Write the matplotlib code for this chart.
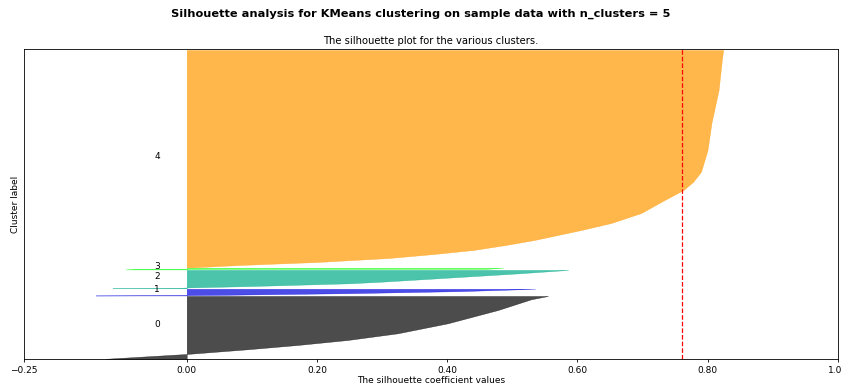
"""
Silhouette plot for KMeans with 5 clusters, values read off the reference.
"""
import numpy as np
import matplotlib
matplotlib.use("Agg")
import matplotlib.pyplot as plt
import matplotlib.cm as cm

n_clusters = 5
cluster_sizes = [1230, 130, 360, 30, 4255]
silhouette_avg = 0.761

# sorted silhouette values, read at a few sample ranks per cluster
c0_rank = [0, 94, 186, 270, 368, 499, 695, 955, 1165, 1230]
c0_vals = [-0.125, 0.0, 0.093, 0.170, 0.247, 0.324, 0.401, 0.478, 0.529, 0.555]

c1_rank = [0, 6, 12, 45, 85, 130]
c1_vals = [-0.14, -0.01, 0.05, 0.25, 0.42, 0.535]

c2_rank = [0, 8, 16, 45, 98, 130, 215, 293, 360]
c2_vals = [-0.114, -0.01, 0.0, 0.10, 0.25, 0.30, 0.41, 0.51, 0.586]

c3_rank = [0, 10, 12, 30]
c3_vals = [-0.094, -0.08, 0.46, 0.486]

c4_rank = [0, 46, 105, 183, 262, 340, 438, 536, 634, 732, 869, 1064,
           1319, 1515, 1677, 1873, 2298, 2827, 3473, 4060, 4255]
c4_vals = [0.01, 0.08, 0.20, 0.31, 0.38, 0.44, 0.49, 0.534, 0.57, 0.606,
           0.652, 0.698, 0.734, 0.763, 0.778, 0.790, 0.800, 0.806, 0.817,
           0.822, 0.824]

ranks = [c0_rank, c1_rank, c2_rank, c3_rank, c4_rank]
values = [c0_vals, c1_vals, c2_vals, c3_vals, c4_vals]

fig = plt.figure(figsize=(8.41, 3.9), dpi=100)
ax1 = fig.add_axes([0.0285, 0.0787, 0.9676, 0.7944])

n_total = sum(cluster_sizes)
ax1.set_xlim([-0.25, 1])
ax1.set_ylim([0, n_total + (n_clusters + 1) * 10])

y_lower = 10
for i in range(n_clusters):
    size_cluster_i = cluster_sizes[i]
    y_pos = y_lower + np.array(ranks[i])
    color = cm.nipy_spectral(float(i) / n_clusters)
    ax1.fill_betweenx(y_pos, 0, values[i],
                      facecolor=color, edgecolor=color, alpha=0.7, linewidth=0.3)
    ax1.text(-0.05, y_lower + 0.5 * size_cluster_i, str(i), fontsize=6.5)
    y_lower = y_lower + size_cluster_i + 10

ax1.set_title("The silhouette plot for the various clusters.", fontsize=7.2, pad=4)
ax1.set_xlabel("The silhouette coefficient values", fontsize=6.5, labelpad=1)
ax1.set_ylabel("Cluster label", fontsize=6.5, labelpad=3)

ax1.axvline(x=silhouette_avg, color="red", linestyle="--", linewidth=0.9)

ax1.set_yticks([])
ax1.set_xticks([-0.25, 0, 0.2, 0.4, 0.6, 0.8, 1])
ax1.set_xticklabels(["\u22120.25", "0.00", "0.20", "0.40", "0.60", "0.80", "1.00"])
ax1.tick_params(axis="x", labelsize=6.5, length=2.5, width=0.6, pad=2)
for sp in ax1.spines.values():
    sp.set_linewidth(0.6)

fig.suptitle("Silhouette analysis for KMeans clustering on sample data "
             "with n_clusters = %d" % n_clusters,
             fontsize=8.2, fontweight="bold", y=0.978)

fig.savefig("out.png", dpi=100)
